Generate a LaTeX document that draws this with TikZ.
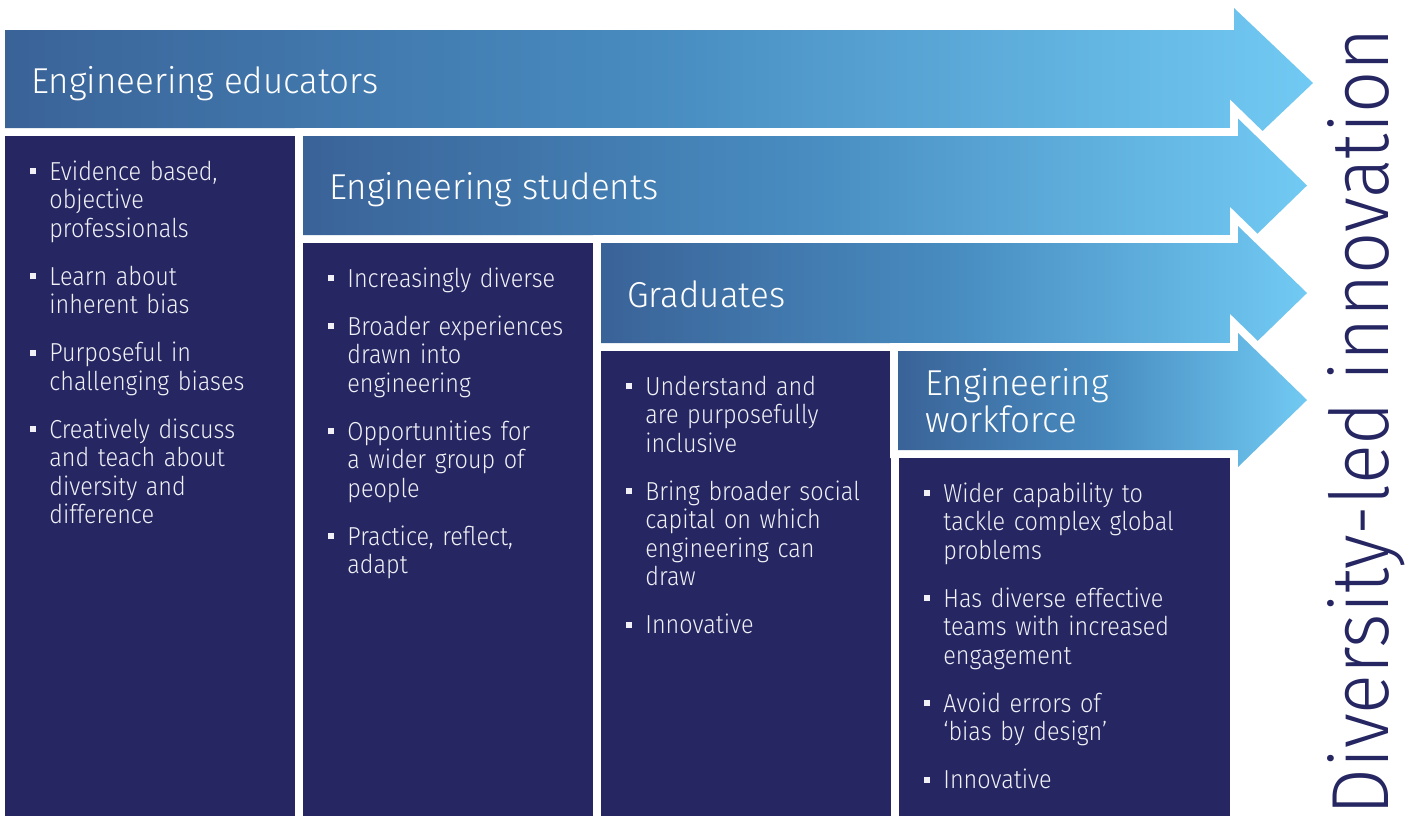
\documentclass[tikz,border=0pt]{standalone}
\usepackage{fontspec}
\setmainfont{Fira Sans Light}
\newfontfamily\bodyfont{Fira Sans Light}[FakeStretch=0.9]
\newfontfamily\headfont{Fira Sans Light}[FakeStretch=0.97]
\newfontfamily\vfont{Fira Sans Light}[FakeStretch=0.914]
\definecolor{navy}{RGB}{37,38,98}
\definecolor{aL}{RGB}{58,99,152}
\definecolor{aM}{RGB}{72,140,192}
\definecolor{aR}{RGB}{113,202,243}
\definecolor{bodywhite}{RGB}{240,240,246}
\pgfdeclarehorizontalshading{arrowshade}{100bp}{color(0bp)=(aL); color(25bp)=(aL); color(50bp)=(aM); color(75bp)=(aR); color(100bp)=(aR)}
\newcommand\bu{\leavevmode\llap{\rule[3pt]{3pt}{3.2pt}\hspace{6.5pt}}}
\newcommand\fs{\rule{0pt}{11pt}}
\begin{document}
\begin{tikzpicture}[x=0.5pt,y=-0.5pt,
  apath/.style n args={7}{insert path={(#1,#2) -- (#4,#2) -- (#4,#5) -- (#6,#7) -- (#4,{2*#7-#5}) -- (#4,#3) -- (#1,#3) -- cycle}},
  arrowgap/.style={draw=white, line width=8pt, line join=miter},
  arrowfill/.style={shade, shading=arrowshade},
  navybox/.style={fill=navy},
  headtxt/.style={anchor=base west, inner sep=0pt, text=white, font=\headfont\fontsize{18pt}{18.5pt}\selectfont},
  bodytxt/.style={anchor=north west, inner sep=0pt, text=bodywhite, text width=150pt, align=left, font=\bodyfont\fontsize{13pt}{14.25pt}\selectfont},
  vtxt/.style={rotate=90, anchor=base west, inner sep=0pt, text=navy, font=\vfont\fontsize{40.5pt}{44pt}\selectfont}]
\useasboundingbox (0,0) rectangle (1416,816);
\fill[white] (0,0) rectangle (1416,816);
% arrow 1 and box 1
\path[arrowgap, apath={5}{30}{128}{1234}{8}{1313}{83}];
\path[arrowfill, apath={5}{30}{128}{1234}{8}{1313}{83}];
\path[navybox] (5,136) rectangle (295,816);
% arrow 2 and box 2
\path[arrowgap, apath={303}{136}{235}{1238}{118.5}{1307}{185.5}];
\path[arrowfill, apath={303}{136}{235}{1238}{118.5}{1307}{185.5}];
\path[navybox] (303,243) rectangle (593,816);
% arrow 3 and box 3
\path[arrowgap, apath={601}{243}{343}{1238}{226}{1307}{293}];
\path[arrowfill, apath={601}{243}{343}{1238}{226}{1307}{293}];
\path[navybox] (601,351) rectangle (891,816);
% arrow 4 and box 4
\path[arrowgap, apath={898}{351}{450}{1238}{333}{1307}{400}];
\path[arrowfill, apath={898}{351}{450}{1238}{333}{1307}{400}];
\path[navybox] (899,458) rectangle (1230,816);
% headers
\node[headtxt] (h1) at (31,93) {Engineering educators};
\node[headtxt] (h2) at (329,199) {Engineering students};
\node[headtxt] (h3) at (627,307) {Graduates};
\node[headtxt, anchor=north west, align=left] (h4) at (925,365) {\rule{0pt}{15pt}Engineering\\workforce};
% bullet lists
\node[bodytxt] (t1) at (49,158) {\fs\bu Evidence based,\\objective\\professionals\\[9.75pt]\bu Learn about\\inherent bias\\[9.75pt]\bu Purposeful in\\challenging biases\\[9.75pt]\bu Creatively discuss\\and teach about\\diversity and\\difference};
\node[bodytxt] (t2) at (347,265) {\fs\bu Increasingly diverse\\[9.75pt]\bu Broader experiences\\drawn into\\engineering\\[9.75pt]\bu Opportunities for\\a wider group of\\people\\[9.75pt]\bu Practice, reflect,\\adapt};
\node[bodytxt] (t3) at (645,373) {\fs\bu Understand and\\are purposefully\\inclusive\\[9.75pt]\bu Bring broader social\\capital on which\\engineering can\\draw\\[9.75pt]\bu Innovative};
\node[bodytxt] (t4) at (943,480) {\fs\bu Wider capability to\\tackle complex global\\problems\\[9.75pt]\bu Has diverse effective\\teams with increased\\engagement\\[9.75pt]\bu Avoid errors of\\‘bias by design’\\[9.75pt]\bu Innovative};
% vertical title
\node[vtxt] (vt) at (1388,816) {Diversity-led innovation};
\end{tikzpicture}
\end{document}
